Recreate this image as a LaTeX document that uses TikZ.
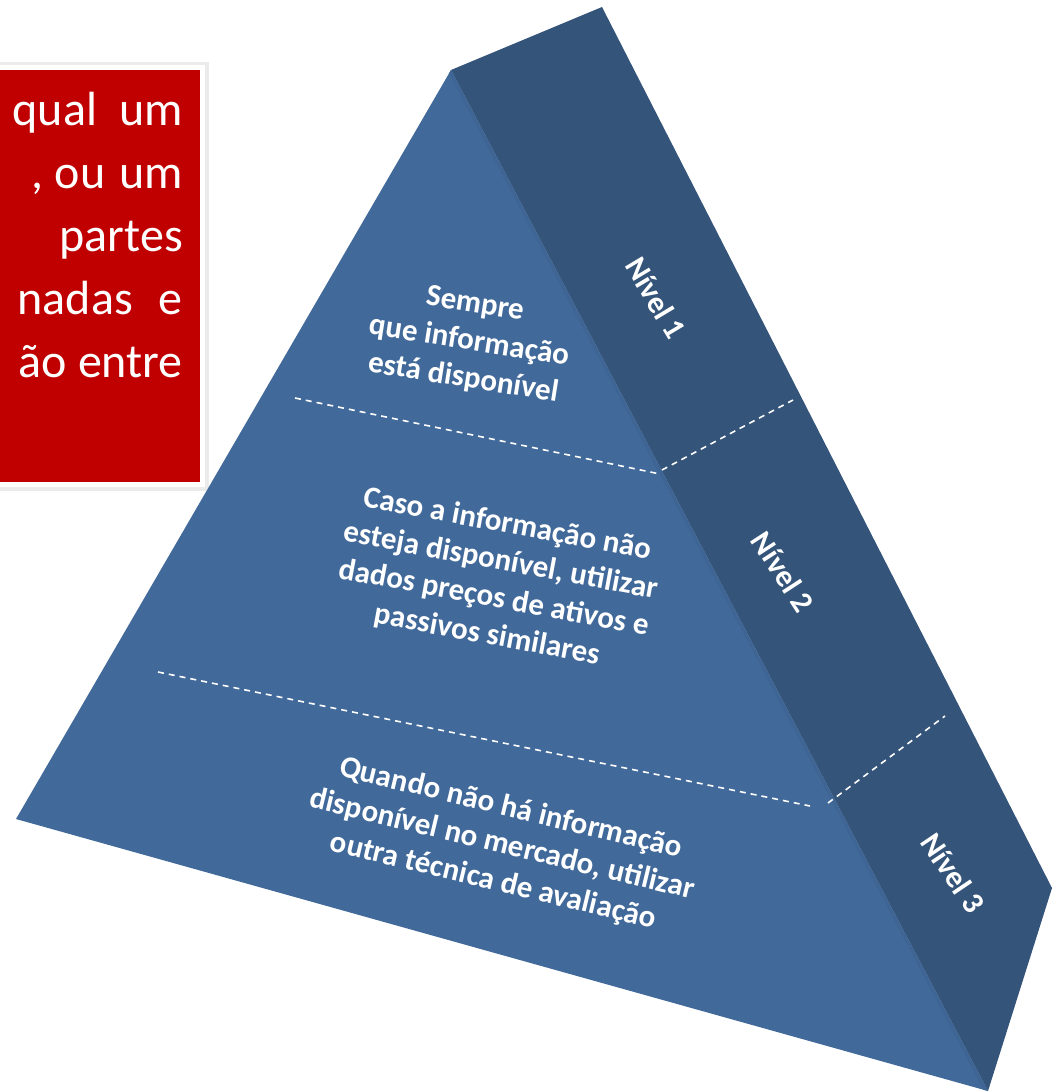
\documentclass[tikz,border=0pt]{standalone}
\usepackage{fontspec}
\setmainfont{Carlito}
\definecolor{frontblue}{RGB}{65,105,154}
\definecolor{sideblue}{RGB}{52,84,121}
\definecolor{boxred}{RGB}{192,0,0}
\begin{document}
\begin{tikzpicture}[x=1pt,y=-1pt,
  facetext/.style={text=white, font=\fontsize{31}{37.5}\selectfont\bfseries, align=center, inner sep=0pt},
  leveltext/.style={text=white, font=\fontsize{31}{38}\selectfont\bfseries, inner sep=0pt},
  redtext/.style={text=white, font=\fontsize{48}{63}\selectfont, anchor=base east, inner sep=0pt},
  divider/.style={white, line width=1.6pt, dash pattern=on 6pt off 5pt}]
\useasboundingbox (0,0) rectangle (1056,1092);
\clip (0,0) rectangle (1056,1092);
% red text box
\fill[black!8] (-10,62) rectangle (209,491);
\fill[white] (-10,65) rectangle (205,487);
\fill[boxred] (-10,70) rectangle (200,482);
\node[redtext] (r1) at (183,125) {qual\hspace{22pt}um};
\node[redtext] (r2) at (183,188) {, ou\hspace{14pt}um};
\node[redtext] (r3) at (183,251) {partes};
\node[redtext] (r4) at (183,314) {nadas\hspace{26pt}e};
\node[redtext] (r5) at (183,377) {ão entre};
% pyramid
\coordinate (A) at (451,70);
\coordinate (T) at (602,7);
\coordinate (R) at (1052,888);
\coordinate (B) at (988,1091);
\coordinate (L) at (16,819);
\fill[sideblue] (A) -- (T) -- (R) -- (B) -- cycle;
\fill[frontblue] (A) -- (B) -- (L) -- cycle;
\begin{scope}
  \clip (A) -- (B) -- (L) -- cycle;
  \draw[frontblue!80!sideblue, line width=7pt] (A) -- (B);
\end{scope}
% dividers
\coordinate (f1a) at (295,398);
\coordinate (f1b) at (660,474);
\coordinate (s1a) at (662,470);
\coordinate (s1b) at (793,400);
\coordinate (f2a) at (158,672);
\coordinate (f2b) at (810,806);
\coordinate (s2a) at (828,803);
\coordinate (s2b) at (945,716);
\draw[divider] (f1a) -- (f1b);
\draw[divider] (s1a) -- (s1b);
\draw[divider] (f2a) -- (f2b);
\draw[divider] (s2a) -- (s2b);
% face texts
\node[facetext, rotate=-9] (t1) at (469,342) {Sempre\\que informação\\está disponível};
\node[facetext, rotate=-10.5] (t2) at (497,580) {Caso a informação não\\esteja disponível, utilizar\\dados preços de ativos e\\passivos similares};
\node[facetext, rotate=-13.5] (t3) at (502,845) {Quando não há informação\\disponível no mercado, utilizar\\outra técnica de avaliação};
% level labels
\node[leveltext, rotate=-59] (n1) at (656,298) {Nível 1};
\node[leveltext, rotate=-57] (n2) at (783,572) {Nível 2};
\node[leveltext, rotate=-56] (n3) at (953,873) {Nível 3};
\end{tikzpicture}
\end{document}
